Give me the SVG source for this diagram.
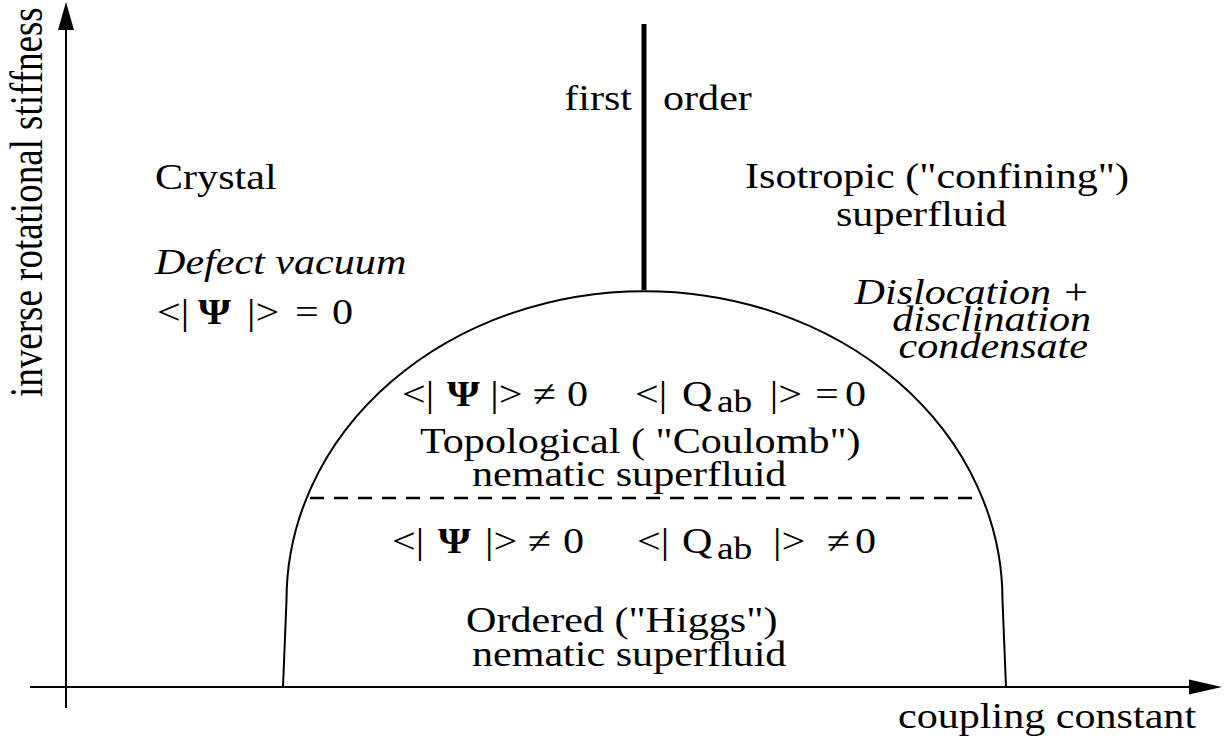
<svg xmlns="http://www.w3.org/2000/svg" width="1229" height="744" viewBox="0 0 1229 744">
<style>
.t{font-family:"Liberation Serif","Times New Roman",serif;font-size:36px;fill:#000}
.i{font-style:italic}
.sub{font-size:32px}
.psi{font-weight:bold}
.ln{fill:none;stroke:#000;stroke-width:2}
</style>
<rect width="1229" height="744" fill="#fff"/>
<g id="connectors">
  <line class="ln" x1="66" y1="708" x2="66" y2="26"/>
  <polygon points="66,2 58,30 74,30" fill="#000"/>
  <line class="ln" x1="30" y1="687" x2="1192" y2="687"/>
  <polygon points="1222,687 1189,679.5 1189,694.5" fill="#000"/>
  <path class="ln" d="M283,687 L286.5,600 A358,309 0 0 1 1002.5,600 L1006,687"/>
  <line x1="644" y1="24" x2="644" y2="290" stroke="#000" stroke-width="5"/>
  <line x1="310" y1="498" x2="978" y2="498" stroke="#000" stroke-width="2.5" stroke-dasharray="14,10"/>
</g>
<g id="axis-labels">
  <text class="t" transform="translate(42,397) scale(1.25,1) rotate(-90)" style="font-size:37px">inverse rotational stiffness</text>
  <g transform="scale(1.17,1)">
    <text class="t" x="767.5" y="728">coupling constant</text>
  </g>
</g>
<g transform="scale(1.17,1)">
  <g id="first-order">
    <text class="t" x="540.2" y="110" text-anchor="end">first</text>
    <text class="t" x="566.7" y="110">order</text>
  </g>
  <g id="crystal">
    <text class="t" x="132.5" y="189">Crystal</text>
    <text class="t i" x="132.5" y="274">Defect vacuum</text>
    <text class="t" y="324"><tspan x="134.2">&lt;|</tspan><tspan class="psi" x="169.2">Ψ</tspan><tspan x="211.1">|&gt;</tspan><tspan x="252.1">=</tspan><tspan x="283.8">0</tspan></text>
  </g>
  <g id="isotropic">
    <text class="t" x="636.8" y="188">Isotropic ("confining")</text>
    <text class="t" x="714.5" y="226">superfluid</text>
    <text class="t i" x="931.6" y="304" text-anchor="end">Dislocation +</text>
    <text class="t i" x="932.5" y="331" text-anchor="end">disclination</text>
    <text class="t i" x="929.9" y="358" text-anchor="end">condensate</text>
  </g>
  <g id="topological">
    <text class="t" y="406"><tspan x="343.6">&lt;|</tspan><tspan class="psi" x="382.1">Ψ</tspan><tspan x="419">|&gt;</tspan><tspan x="455.5">≠</tspan><tspan x="484.6">0</tspan><tspan x="542.7">&lt;|</tspan><tspan x="582.9">Q</tspan><tspan class="sub" x="612.8" y="412">ab</tspan><tspan x="658" y="406">|&gt;</tspan><tspan x="696.5">=</tspan><tspan x="722.2">0</tspan></text>
    <text class="t" x="359" y="453">Topological ( "Coulomb")</text>
    <text class="t" x="403.4" y="486">nematic superfluid</text>
  </g>
  <g id="ordered">
    <text class="t" y="553"><tspan x="335">&lt;|</tspan><tspan class="psi" x="374.4">Ψ</tspan><tspan x="414.5">|&gt;</tspan><tspan x="451.3">≠</tspan><tspan x="481.2">0</tspan><tspan x="544.4">&lt;|</tspan><tspan x="582.9">Q</tspan><tspan class="sub" x="612.8" y="559">ab</tspan><tspan x="660.7" y="553">|&gt;</tspan><tspan x="706.8">≠</tspan><tspan x="730.8">0</tspan></text>
    <text class="t" x="398.3" y="632">Ordered ("Higgs")</text>
    <text class="t" x="403.4" y="666">nematic superfluid</text>
  </g>
</g>
</svg>
